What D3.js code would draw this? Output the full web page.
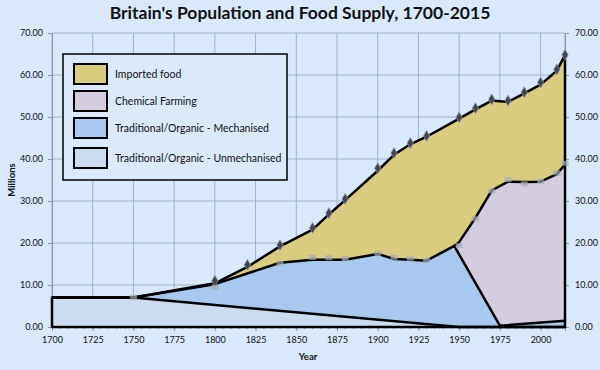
<!DOCTYPE html>
<meta charset="utf-8">
<script src="https://d3js.org/d3.v7.min.js"></script>
<body style="margin:0">
<style>
  html, body { background: #d9e8fb; }
  text { font-family: Lato, "Open Sans", sans-serif; fill: #111; }
</style>
<svg width="600" height="370"></svg>
<script>

// population (top line) and the boundaries between the stacked supplies
var popYears = [1700, 1750, 1800, 1820, 1840, 1860, 1870, 1880, 1900, 1910, 1920, 1930, 1950, 1960, 1970, 1980, 1990, 2000, 2010, 2015];
var popValues = [7, 7, 10.4, 14.3, 19.2, 23.2, 26.8, 30.2, 37.2, 41, 43.5, 45.3, 49.6, 51.8, 53.9, 53.6, 55.6, 57.7, 61, 64.8];

var chemYears = [1947, 1950, 1960, 1970, 1980, 1990, 2000, 2010, 2015];
var chemValues = [19.3, 20.2, 26, 32.5, 34.6, 34.5, 34.6, 36.4, 38.7];

var mechYears = [1700, 1750, 1800, 1840, 1860, 1870, 1880, 1900, 1910, 1920, 1930, 1947, 1975, 2015];
var mechValues = [7, 7, 10.2, 15.3, 16, 16, 16, 17.4, 16.2, 16, 15.8, 19.3, 0.3, 1.5];

var unmechYears = [1700, 1750, 1950, 2015];
var unmechValues = [7, 7, 0, 0];

// marker positions
var popMarkYears = [1800, 1820, 1840, 1860, 1870, 1880, 1900, 1910, 1920, 1930, 1950, 1960, 1970, 1980, 1990, 2000, 2010, 2015];
var popMarkValues = [11, 14.8, 19.5, 23.6, 27.1, 30.5, 37.8, 41.4, 43.8, 45.5, 49.9, 52.1, 54.2, 53.9, 55.9, 58.2, 61.3, 64.8];
var domMarkYears = [1750, 1800, 1840, 1860, 1870, 1880, 1900, 1910, 1920, 1930, 1950, 1960, 1970, 1980, 1990, 2000, 2010, 2015];
var domMarkValues = [7.2, 9.6, 15.2, 16.7, 16.6, 16.4, 17.7, 16.7, 16.5, 16, 19.5, 25.9, 32.5, 35.2, 34.2, 34.8, 36.8, 39.1];

var legendLabels = ['Imported food', 'Chemical Farming', 'Traditional/Organic - Mechanised', 'Traditional/Organic - Unmechanised'];
var colors = ['#d9cc7e', '#d4cde0', '#a8c8f0', '#ccdcf0'];
var xTicks = d3.range(1700, 2001, 25);
var yTicks = d3.range(0, 71, 10);

var svg = d3.select('svg');
var x = d3.scaleLinear().domain([1700, 2015]).range([52, 565]);
var y = d3.scaleLinear().domain([0, 70]).range([327, 33]);

function pts(xs, vs) { return xs.map(function (d, i) { return [d, vs[i]]; }); }

// grid
svg.append('g').selectAll('line').data(xTicks.concat([2015])).enter().append('line')
    .attr('x1', function (d) { return x(d); }).attr('x2', function (d) { return x(d); })
    .attr('y1', y(0)).attr('y2', y(70))
    .attr('stroke', '#a3b3c8').attr('stroke-width', 1);
svg.append('g').selectAll('line').data(yTicks).enter().append('line')
    .attr('x1', x(1700)).attr('x2', x(2015))
    .attr('y1', function (d) { return y(d); }).attr('y2', function (d) { return y(d); })
    .attr('stroke', '#a3b3c8').attr('stroke-width', 1);

// axes
var fmt = d3.format('.2f');
var left = svg.append('g').attr('transform', 'translate(' + x(1700) + ',0)')
    .call(d3.axisLeft(y).tickValues(yTicks).tickFormat(fmt).tickSize(4).tickPadding(5));
var right = svg.append('g').attr('transform', 'translate(' + x(2015) + ',0)')
    .call(d3.axisRight(y).tickValues(yTicks).tickFormat(fmt).tickSize(4).tickPadding(6));
var bottom = svg.append('g').attr('transform', 'translate(0,' + y(0) + ')')
    .call(d3.axisBottom(x).tickValues(xTicks).tickFormat(d3.format('d')).tickSize(4).tickPadding(6));
svg.append('g').selectAll('line').data(d3.range(1705, 2015, 5)).enter().append('line')
    .attr('x1', function (d) { return x(d); }).attr('x2', function (d) { return x(d); })
    .attr('y1', y(0)).attr('y2', y(0) + 2).attr('stroke', '#8a97a8');
[left, right, bottom].forEach(function (g) {
    g.selectAll('path, line').attr('stroke', '#8a97a8');
    g.selectAll('text').style('font-size', '9px').attr('fill', '#222');
});

// layered fills
var area = d3.area().x(function (d) { return x(d[0]); }).y0(y(0)).y1(function (d) { return y(d[1]); });
var series = [pts(popYears, popValues), pts(chemYears, chemValues), pts(mechYears, mechValues), pts(unmechYears, unmechValues)];
svg.append('g').selectAll('path').data(series).enter().append('path')
    .attr('d', area).attr('fill', function (d, i) { return colors[i]; });

// outlines
var line = d3.line().x(function (d) { return x(d[0]); }).y(function (d) { return y(d[1]); });
svg.append('path').attr('d', area(series[0]) + 'Z')
    .attr('fill', 'none').attr('stroke', '#000').attr('stroke-width', 2.5).attr('stroke-linejoin', 'round');
series.slice(1).forEach(function (s) {
    svg.append('path').attr('d', line(s))
        .attr('fill', 'none').attr('stroke', '#000').attr('stroke-width', 2.5).attr('stroke-linejoin', 'round');
});

// markers
svg.append('g').selectAll('rect').data(pts(domMarkYears, domMarkValues)).enter().append('rect')
    .attr('x', function (d) { return x(d[0]) - 3.5; }).attr('y', function (d) { return y(d[1]) - 2; })
    .attr('width', 7).attr('height', 5).attr('fill', '#a2aab4').attr('opacity', 0.7);
svg.append('g').selectAll('path').data(pts(popMarkYears, popMarkValues)).enter().append('path')
    .attr('d', d3.symbol().type(d3.symbolDiamond).size(34))
    .attr('transform', function (d) { return 'translate(' + x(d[0]) + ',' + y(d[1]) + ')'; })
    .attr('fill', '#40454f').attr('stroke', '#8f96a2').attr('stroke-width', 0.8);

// legend
var lg = svg.append('g');
lg.append('rect').attr('x', 63).attr('y', 54).attr('width', 224).attr('height', 126)
    .attr('fill', '#dbe9fb').attr('stroke', '#000').attr('stroke-width', 1.5);
var items = lg.selectAll('g.item').data(legendLabels).enter().append('g')
    .attr('transform', function (d, i) { return 'translate(74,' + [64, 91, 118, 148][i] + ')'; });
items.append('rect').attr('width', 33).attr('height', 20)
    .attr('fill', function (d, i) { return colors[i]; }).attr('stroke', '#000').attr('stroke-width', 2);
items.append('text').attr('x', 41).attr('y', 10).attr('dy', '0.35em')
    .style('font-size', '10.5px').text(function (d) { return d; });

// titles
svg.append('text').attr('x', 300).attr('y', 19).attr('text-anchor', 'middle')
    .style('font-size', '17.5px').style('font-weight', 'bold')
    .text("Britain's Population and Food Supply, 1700-2015");
svg.append('text').attr('x', 308).attr('y', 360).attr('text-anchor', 'middle')
    .style('font-size', '9.5px').style('font-weight', 'bold').text('Year');
svg.append('text').attr('transform', 'translate(15,180) rotate(-90)').attr('text-anchor', 'middle')
    .style('font-size', '9.5px').style('font-weight', 'bold').text('Millions');

</script>
</body>
